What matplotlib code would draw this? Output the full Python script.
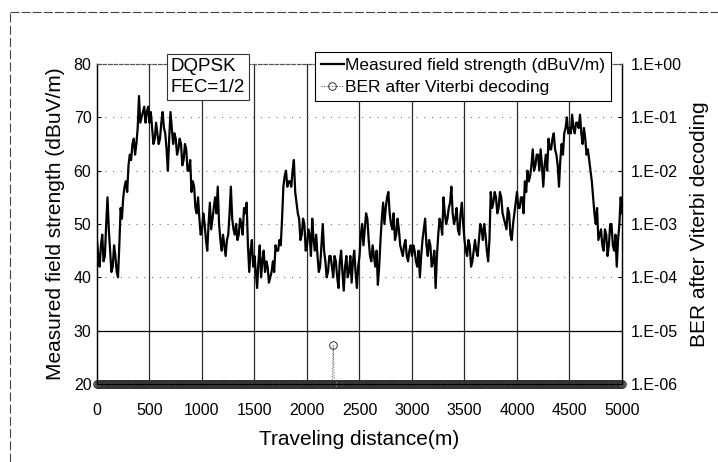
import matplotlib
matplotlib.use("Agg")
import matplotlib.pyplot as plt
import numpy as np
from matplotlib.lines import Line2D
from matplotlib.ticker import FixedLocator, FuncFormatter, NullLocator

plt.rcParams['font.family'] = ['Liberation Sans', 'DejaVu Sans']

# travelling distance (m): trace read every 25 m, plus the samples in between
dist = np.arange(0, 5001, 25)
dist_mid = np.arange(12.5, 5000, 25)

# measured field strength (dBuV/m)
field = [
    47, 42, 48, 44, 55, 45, 42, 44, 40, 53, 55, 58, 61, 62, 66, 65, 74, 70, 72, 71,
    69, 68, 66, 67, 66, 71, 67, 60, 71, 65, 66, 64, 65, 62, 64, 60, 56, 57, 52, 51,
    49, 50, 45, 54, 51, 55, 57, 47, 48, 44, 48, 57, 49, 50, 48, 50, 53, 54, 41, 47,
    44, 38, 46, 43, 41, 42, 40, 43, 46, 45, 46, 57, 60, 58, 57, 62, 54, 51, 48, 50,
    46, 48, 51, 45, 44, 42, 50, 43, 41, 44, 40, 43, 38, 45, 37.5, 44, 41, 39, 45, 38,
    44, 50, 49, 51, 44, 46, 42, 38.6, 47, 54, 53, 56, 50, 52, 48, 49, 45, 46, 44, 45,
    44, 45, 42, 40, 47, 51, 44, 46, 43, 38, 48, 50, 55, 50, 53, 57, 50, 53, 48, 54,
    47, 44, 46, 43, 47, 44, 50, 47, 48, 43, 56, 54, 55, 53, 55, 51, 49, 52, 47, 52,
    56, 53, 55, 58, 60, 59, 64, 61, 63, 64, 57, 63, 66, 64, 67, 63, 57, 65, 67, 70,
    68, 70.5, 67, 69, 70.5, 65, 66, 64, 60, 55, 50, 47, 49, 45, 48, 46, 50, 45, 42, 50,
    52,
]
field_mid = [
    44, 46, 43, 50, 49, 41, 46, 41, 46, 51, 57, 56, 63, 65, 63, 68, 69, 71, 69, 72,
    71, 65, 69, 65, 69, 68, 64, 66, 68, 67, 63, 66, 61, 65, 60, 62, 58, 53, 55, 48,
    52, 47, 50, 49, 53, 52, 50, 45, 46, 47, 52, 51, 48, 47, 51, 48, 52, 46, 45, 42,
    41, 43, 40, 45, 43, 39, 41, 41, 45, 47, 51, 59, 57, 58, 60, 56, 52, 47, 51, 45,
    49, 44, 47, 48, 41, 46, 45, 40, 44, 42, 44, 40, 43, 41, 42, 40, 44, 43, 41, 42,
    48, 46, 52, 47, 43, 44, 45, 42, 51, 50, 55, 52, 49, 47, 51, 46, 44, 47, 43, 46,
    46, 43, 45, 44, 49, 46, 47, 42, 45, 44, 51, 48, 52, 51, 54, 52, 51, 49, 52, 50,
    45, 47, 42, 45, 45, 47, 49, 50, 45, 47, 53, 56, 52, 56, 52, 50, 53, 48, 50, 54,
    53, 55, 52, 56, 58, 61, 60, 63, 60, 61, 61, 60, 64, 66, 64, 61, 62, 63, 68, 67,
    67, 68, 69, 68, 67, 68, 63, 62, 58, 52, 53, 48, 46, 49, 44, 50, 46, 48, 47, 55,
]

# BER after Viterbi decoding, logged every 10 m: floor value except one event
ber_dist = np.arange(0, 5001, 10)
ber_floor = 1e-6
ber_events = {2250: 5.4e-6}
ber = [ber_events.get(int(d), ber_floor) for d in ber_dist]

x_ticks = list(range(0, 5001, 500))
left_ticks = [20, 30, 40, 50, 60, 70, 80]
right_ticks = [1e-6, 1e-5, 1e-4, 1e-3, 1e-2, 1e-1, 1e0]

x_all = np.concatenate([dist, dist_mid])
y_all = np.concatenate([field, field_mid])
order = np.argsort(x_all)

fig = plt.figure(figsize=(7.18, 4.62), dpi=100)
ax = fig.add_axes([97 / 718, 1 - 384 / 462, 525 / 718, 320 / 462])
ax2 = ax.twinx()

# grid, drawn by hand to look like the scanned original
for xv in x_ticks[1:-1]:
    ax.axvline(xv, color='#2a2a2a', lw=0.9, zorder=1)
for yv in left_ticks[2:-1]:
    ax.axhline(yv, color='#777777', lw=0.8, ls=(0, (1, 6)), zorder=1)
ax.axhline(30, color='black', lw=0.9, zorder=1)

ln, = ax.plot(x_all[order], y_all[order], color='black', lw=1.6, zorder=3,
              label='Measured field strength (dBuV/m)')

ax.set_xlim(0, 5000)
ax.set_ylim(20, 80)
ax.set_xticks(x_ticks)
ax.set_yticks(left_ticks)
ax.tick_params(axis='x', direction='in', length=0, pad=14, labelsize=11.5)
ax.tick_params(axis='y', direction='in', length=3, pad=4, labelsize=11.5)
ax.set_xlabel('Traveling distance(m)', fontsize=15, labelpad=8)
ax.set_ylabel('Measured field strength (dBuV/m)', fontsize=15, labelpad=6)

ax2.set_yscale('log')
ax2.set_ylim(1e-6, 1e0)
bl, = ax2.plot(ber_dist, ber, color='#444444', lw=0.7, ls=':', marker='o', ms=5.5,
               mfc='none', mec='#333333', mew=0.7, zorder=2, clip_on=False,
               label='BER after Viterbi decoding')
ax2.yaxis.set_major_locator(FixedLocator(right_ticks))
ax2.yaxis.set_minor_locator(NullLocator())
ax2.yaxis.set_major_formatter(FuncFormatter(lambda v, p: '1.E%+03d' % round(np.log10(v))))
ax2.tick_params(axis='y', direction='in', length=3, pad=6, labelsize=11.5)
ax2.set_ylabel('BER after Viterbi decoding', fontsize=15, labelpad=6)

for a in (ax, ax2):
    a.spines['top'].set_linestyle((0, (3, 2)))
    a.spines['top'].set_color('#555555')
    a.spines['top'].set_linewidth(0.8)
    a.spines['left'].set_linewidth(0.9)
    a.spines['right'].set_linewidth(0.9)
    a.spines['bottom'].set_linewidth(0.9)

leg = ax2.legend(handles=[ln, bl], loc='upper left',
                 bbox_to_anchor=(315 / 718, 1 - 52 / 462),
                 bbox_transform=fig.transFigure, fontsize=12.5,
                 frameon=True, fancybox=False, framealpha=1, edgecolor='black',
                 handlelength=1.3, handletextpad=0.1, borderpad=0.35,
                 labelspacing=0.4, borderaxespad=0)
leg.get_frame().set_linewidth(0.8)

fig.text(171 / 718, 1 - 58 / 462, 'DQPSK\nFEC=1/2', fontsize=13.5, va='top', ha='left',
         linespacing=1.3, zorder=5,
         bbox=dict(boxstyle='square,pad=0.2', fc='white', ec='#333333', lw=0.8))

# outer frame of the scanned figure
fig.add_artist(Line2D([10 / 718, 1.0], [1 - 12 / 462] * 2, transform=fig.transFigure,
                      color='#444444', lw=0.8, ls=(0, (8, 2))))
fig.add_artist(Line2D([10 / 718] * 2, [0.0, 1 - 12 / 462], transform=fig.transFigure,
                      color='#444444', lw=0.8, ls=(0, (8, 3))))

fig.savefig('out.png', dpi=100)
